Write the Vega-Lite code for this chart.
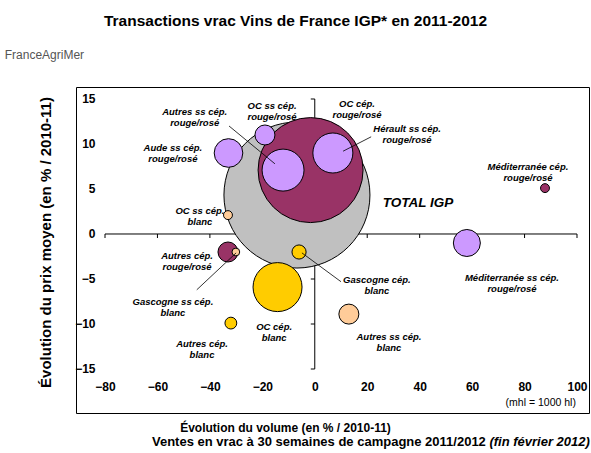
{
  "$schema": "https://vega.github.io/schema/vega-lite/v6.json",
  "width": 513,
  "height": 326,
  "autosize": {"type": "none"},
  "padding": {"left": 76, "top": 87, "right": 2, "bottom": 40},
  "background": "white",
  "config": {
    "view": {"stroke": "black", "strokeWidth": 1},
    "font": "Liberation Sans"
  },
  "title": {
    "text": "Transactions vrac Vins de France IGP* en 2011-2012",
    "font": "Liberation Sans",
    "fontSize": 15.5,
    "fontWeight": "bold",
    "color": "black",
    "anchor": "middle",
    "dx": -37,
    "baseline": "alphabetic",
    "offset": 7
  },
  "datasets": {
    "bubbles": [
      {"name": "TOTAL IGP", "cat": "total", "vol": 2132, "x": -6.8, "y": 4.33},
      {"name": "OC cép. rouge/rosé", "cat": "cep_rouge", "vol": 1102, "x": -1.6, "y": 7.1},
      {"name": "Autres ss cép. rouge/rosé", "cat": "sscep_rouge", "vol": 176, "x": -12.1, "y": 7.1},
      {"name": "Hérault ss cép. rouge/rosé", "cat": "sscep_rouge", "vol": 160, "x": 6.9, "y": 9.0},
      {"name": "OC ss cép. rouge/rosé", "cat": "sscep_rouge", "vol": 40, "x": -19.0, "y": 11.0},
      {"name": "Aude ss cép. rouge/rosé", "cat": "sscep_rouge", "vol": 82, "x": -32.9, "y": 9.0},
      {"name": "OC ss cép. blanc", "cat": "sscep_blanc", "vol": 8, "x": -33.1, "y": 2.1},
      {"name": "Méditerranée cép. rouge/rosé", "cat": "cep_rouge", "vol": 8, "x": 87.8, "y": 5.1},
      {"name": "Méditerranée ss cép. rouge/rosé", "cat": "sscep_rouge", "vol": 73, "x": 58.0, "y": -1.0},
      {"name": "Autres cép. rouge/rosé", "cat": "cep_rouge", "vol": 40, "x": -33.1, "y": -2.0},
      {"name": "Gascogne ss cép. blanc", "cat": "sscep_blanc", "vol": 6, "x": -30.1, "y": -2.0},
      {"name": "Gascogne cép. blanc", "cat": "cep_blanc", "vol": 20, "x": -6.0, "y": -2.0},
      {"name": "OC cép. blanc", "cat": "cep_blanc", "vol": 240, "x": -14.2, "y": -5.9},
      {"name": "Autres cép. blanc", "cat": "cep_blanc", "vol": 14, "x": -32.0, "y": -9.9},
      {"name": "Autres ss cép. blanc", "cat": "sscep_blanc", "vol": 40, "x": 13.0, "y": -8.9}
    ],
    "labels": [
      {"t": "Autres ss cép.\nrouge/rosé", "x": -45.8, "y": 13.6},
      {"t": "OC ss cép.\nrouge/rosé", "x": -16.3, "y": 14.2},
      {"t": "OC cép.\nrouge/rosé", "x": 16.1, "y": 14.4},
      {"t": "Hérault ss cép.\nrouge/rosé", "x": 35.2, "y": 11.7},
      {"t": "Aude ss cép.\nrouge/rosé", "x": -54.1, "y": 9.6},
      {"t": "OC ss cép.\nblanc", "x": -43.8, "y": 2.5},
      {"t": "Méditerranée cép.\nrouge/rosé", "x": 81.3, "y": 7.4},
      {"t": "Méditerranée ss cép.\nrouge/rosé", "x": 75.2, "y": -4.9},
      {"t": "Gascogne cép.\nblanc", "x": 23.7, "y": -5.1},
      {"t": "Autres ss cép.\nblanc", "x": 28.3, "y": -11.4},
      {"t": "Autres cép.\nrouge/rosé", "x": -48.7, "y": -2.5},
      {"t": "Gascogne ss cép.\nblanc", "x": -54.1, "y": -7.6},
      {"t": "OC cép.\nblanc", "x": -15.5, "y": -10.3},
      {"t": "Autres cép.\nblanc", "x": -43.0, "y": -12.2}
    ],
    "leaders": [
      {"x": -32.7, "y": 12.0, "x2": -15.2, "y2": 7.8},
      {"x": 21.5, "y": 10.8, "x2": 10.8, "y2": 9.2},
      {"x": 10.0, "y": -5.3, "x2": -4.9, "y2": -2.1},
      {"x": -45.0, "y": -6.2, "x2": -30.0, "y2": -2.1}
    ],
    "axislines": [
      {"x": -80, "y": 0, "x2": 100, "y2": 0},
      {"x": 0, "y": -15, "x2": 0, "y2": 15}
    ],
    "xticks": [
      {"x": -80, "y": 0}, {"x": -60, "y": 0}, {"x": -40, "y": 0}, {"x": -20, "y": 0}, {"x": 0, "y": 0},
      {"x": 20, "y": 0}, {"x": 40, "y": 0}, {"x": 60, "y": 0}, {"x": 80, "y": 0}, {"x": 100, "y": 0}
    ],
    "yticks": [
      {"x": 0, "y": -15}, {"x": 0, "y": -10}, {"x": 0, "y": -5}, {"x": 0, "y": 0},
      {"x": 0, "y": 5}, {"x": 0, "y": 10}, {"x": 0, "y": 15}
    ],
    "notes": [
      {"t": "(fin février 2012)", "kind": "footitalic", "x": 104.9, "y": -23.1},
      {"t": "Ventes en vrac à 30 semaines de campagne 2011/2012", "kind": "foot", "x": 104.9, "y": -23.1},
      {"t": "(mhl = 1000 hl)", "kind": "unit", "x": 99.6, "y": -18.8},
      {"t": "FranceAgriMer", "kind": "logo", "x": -103.1, "y": 19.9},
      {"t": "TOTAL IGP", "kind": "total", "x": 39.4, "y": 3.4}
    ]
  },
  "encoding": {
    "x": {
      "field": "x",
      "type": "quantitative",
      "scale": {"domain": [-91.06, 104.58], "nice": false, "zero": false},
      "axis": {
        "title": "Évolution du volume (en % / 2010-11)",
        "values": [-80, -60, -40, -20, 0, 20, 40, 60, 80, 100],
        "grid": false,
        "domain": false,
        "ticks": false,
        "tickSize": 0,
        "offset": -32,
        "labelPadding": 0,
        "labelFont": "Liberation Sans",
        "labelFontSize": 12,
        "labelFontWeight": "bold",
        "labelColor": "black",
        "labelFlush": false,
        "labelOverlap": false,
        "titleFont": "Liberation Sans",
        "titleFontSize": 12,
        "titleFontWeight": "bold",
        "titleColor": "black",
        "titleX": 209,
        "titleY": 46,
        "titleBaseline": "middle",
        "titleAlign": "center"
      }
    },
    "y": {
      "field": "y",
      "type": "quantitative",
      "scale": {"domain": [-19.889, 16.333], "nice": false, "zero": false},
      "axis": {
        "title": "Évolution du prix moyen (en % / 2010-11)",
        "values": [-15, -10, -5, 0, 5, 10, 15],
        "grid": false,
        "domain": false,
        "ticks": false,
        "tickSize": 0,
        "offset": -19,
        "labelPadding": 0,
        "labelFont": "Liberation Sans",
        "labelFontSize": 12,
        "labelFontWeight": "bold",
        "labelColor": "black",
        "labelFlush": false,
        "labelOverlap": false,
        "titleFont": "Liberation Sans",
        "titleFontSize": 15,
        "titleFontWeight": "bold",
        "titleColor": "black",
        "titleAngle": -90,
        "titleX": -50,
        "titleY": 155,
        "titleBaseline": "middle",
        "titleAlign": "center"
      }
    }
  },
  "layer": [
    {
      "data": {"name": "axislines"},
      "mark": {"type": "rule", "color": "black", "strokeWidth": 1},
      "encoding": {"x2": {"field": "x2"}, "y2": {"field": "y2"}}
    },
    {
      "data": {"name": "xticks"},
      "mark": {"type": "tick", "orient": "vertical", "size": 4, "thickness": 1, "yOffset": 2, "color": "black", "opacity": 1}
    },
    {
      "data": {"name": "yticks"},
      "mark": {"type": "tick", "orient": "horizontal", "size": 4, "thickness": 1, "xOffset": -2, "color": "black", "opacity": 1}
    },
    {
      "data": {"name": "bubbles"},
      "mark": {"type": "circle", "opacity": 1, "stroke": "black", "strokeWidth": 1},
      "encoding": {
        "size": {"field": "vol", "type": "quantitative", "scale": {"domain": [0, 1000], "range": [0, 10000]}, "legend": null},
        "color": {
          "field": "cat",
          "type": "nominal",
          "scale": {
            "domain": ["total", "cep_rouge", "sscep_rouge", "cep_blanc", "sscep_blanc"],
            "range": ["#C0C0C0", "#993366", "#CC99FF", "#FFCC00", "#FFCC99"]
          },
          "legend": null
        }
      }
    },
    {
      "data": {"name": "leaders"},
      "mark": {"type": "rule", "color": "black", "strokeWidth": 0.8},
      "encoding": {"x2": {"field": "x2"}, "y2": {"field": "y2"}}
    },
    {
      "data": {"name": "labels"},
      "mark": {"type": "text", "font": "Liberation Sans", "fontSize": 9.5, "fontWeight": "bold", "fontStyle": "italic", "lineBreak": "\n", "lineHeight": 11, "align": "center", "baseline": "middle", "color": "black"},
      "encoding": {"text": {"field": "t"}}
    },
    {
      "data": {"name": "notes"},
      "transform": [{"filter": "datum.kind == 'total'"}],
      "mark": {"type": "text", "font": "Liberation Sans", "fontSize": 13.5, "fontWeight": "bold", "fontStyle": "italic", "align": "center", "baseline": "middle", "color": "black"},
      "encoding": {"text": {"field": "t"}}
    },
    {
      "data": {"name": "notes"},
      "transform": [{"filter": "datum.kind == 'footitalic'"}],
      "mark": {"type": "text", "font": "Liberation Sans", "fontSize": 13, "fontWeight": "bold", "fontStyle": "italic", "align": "right", "baseline": "middle", "color": "black"},
      "encoding": {"text": {"field": "t"}}
    },
    {
      "data": {"name": "notes"},
      "transform": [{"filter": "datum.kind == 'foot'"}],
      "mark": {"type": "text", "font": "Liberation Sans", "fontSize": 13, "fontWeight": "bold", "align": "right", "baseline": "middle", "dx": -104, "color": "black"},
      "encoding": {"text": {"field": "t"}}
    },
    {
      "data": {"name": "notes"},
      "transform": [{"filter": "datum.kind == 'unit'"}],
      "mark": {"type": "text", "font": "Liberation Sans", "fontSize": 10.5, "align": "right", "baseline": "middle", "color": "black"},
      "encoding": {"text": {"field": "t"}}
    },
    {
      "data": {"name": "notes"},
      "transform": [{"filter": "datum.kind == 'logo'"}],
      "mark": {"type": "text", "font": "Liberation Sans", "fontSize": 12, "align": "center", "baseline": "middle", "color": "#555555"},
      "encoding": {"text": {"field": "t"}}
    }
  ]
}
